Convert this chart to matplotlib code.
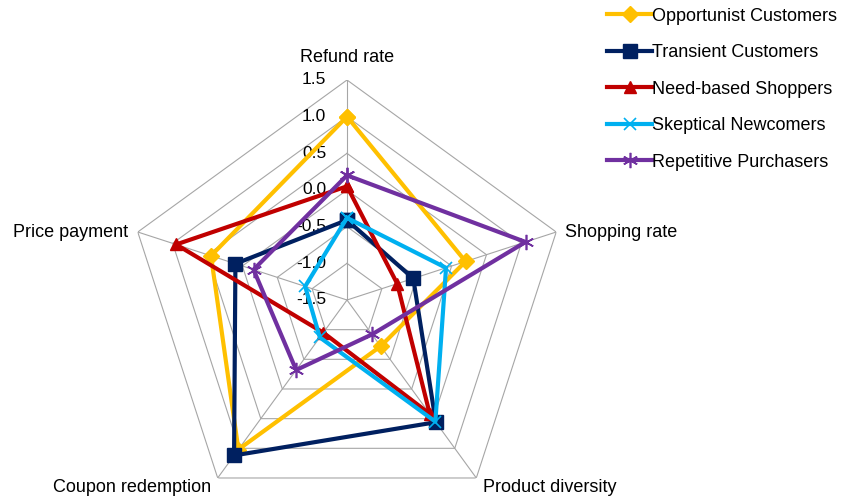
import numpy as np
import matplotlib
matplotlib.use("Agg")
import matplotlib.pyplot as plt

plt.rcParams['font.family'] = ['Liberation Sans', 'DejaVu Sans']

# Chart data
categories = ["Refund rate", "Shopping rate", "Product diversity",
              "Coupon redemption", "Price payment"]
series_names = ["Opportunist Customers", "Transient Customers", "Need-based Shoppers",
                "Skeptical Newcomers", "Repetitive Purchasers"]
opportunist = [1.0, 0.2, -0.72, 1.02, 0.45]
transient = [-0.41, -0.55, 0.56, 1.12, 0.1]
need_based = [0.05, -0.78, 0.42, -0.95, 0.95]
skeptical = [-0.38, -0.08, 0.55, -0.87, -0.9]
repetitive = [0.2, 1.06, -0.92, -0.32, -0.16]
ticks = [-1.5, -1.0, -0.5, 0.0, 0.5, 1.0, 1.5]

series = [opportunist, transient, need_based, skeptical, repetitive]
colors = ['#FFC000', '#002060', '#C00000', '#00B0F0', '#7030A0']
markers = ['D', 's', '^', 'x', (6, 2, 0)]
msizes = [8, 10, 9, 9, 11]

n = len(categories)
theta = np.linspace(0, 2 * np.pi, n, endpoint=False)
theta_c = np.append(theta, theta[0])

fig = plt.figure(figsize=(8.5, 5), dpi=100)
ax = fig.add_axes([127 / 850, -20 / 500, 440 / 850, 440 / 500], projection='polar')
ax.set_theta_offset(np.pi / 2)
ax.set_theta_direction(-1)
ax.set_ylim(ticks[0], ticks[-1])
ax.grid(False)
ax.spines['polar'].set_visible(False)
ax.set_xticks([])
ax.set_yticks([])
ax.patch.set_alpha(0)

# pentagon grid and spokes
for t in ticks[1:]:
    ax.plot(theta_c, [t] * (n + 1), color='#a6a6a6', lw=0.8, zorder=1)
for th in theta:
    ax.plot([th, th], [ticks[0], ticks[-1]], color='#a6a6a6', lw=0.8, zorder=1)

# tick labels along the top axis
for t in ticks:
    ax.annotate(f"{t:.1f}", xy=(0, t), xytext=(-15, 0), textcoords='offset points',
                ha='right', va='center', fontsize=12.5)

# series
for vals, name, c, m, ms in zip(series, series_names, colors, markers, msizes):
    v = vals + vals[:1]
    ax.plot(theta_c, v, color=c, lw=3.0, marker=m, markersize=ms,
            markeredgewidth=1.2 if m == 'x' or isinstance(m, tuple) else 1,
            label=name, zorder=3, clip_on=False)

# category labels
label_pos = [
    (0, 10, 'center', 'bottom'),
    (6, 0, 'left', 'center'),
    (5, -7, 'left', 'center'),
    (-5, -7, 'right', 'center'),
    (-7, 0, 'right', 'center'),
]
for th, lab, (dx, dy, ha, va) in zip(theta, categories, label_pos):
    ax.annotate(lab, xy=(th, ticks[-1]), xytext=(dx, dy), textcoords='offset points',
                ha=ha, va=va, fontsize=13, annotation_clip=False)

fig.legend(loc='upper left', bbox_to_anchor=(591 / 850, 1.017), frameon=False,
           fontsize=13, handlelength=2.5, handletextpad=0.0, labelspacing=1.08)

fig.savefig("out.png", dpi=100)
